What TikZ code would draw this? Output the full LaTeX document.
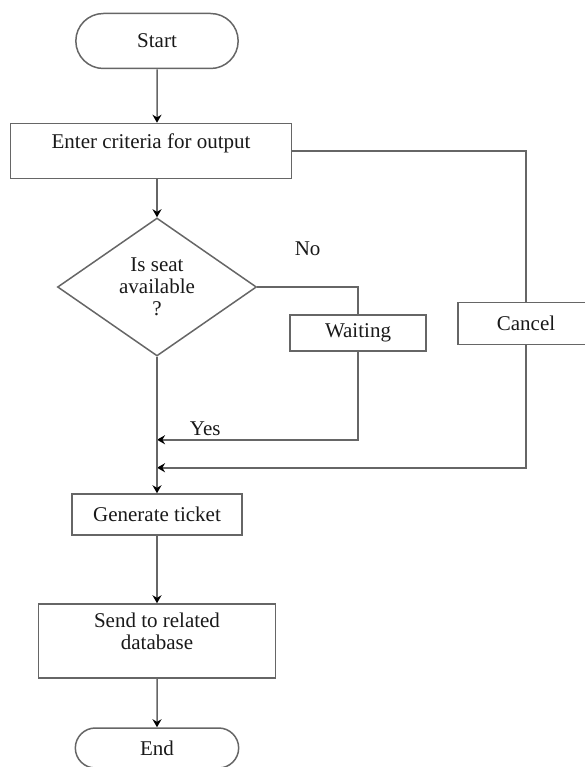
\documentclass[tikz,border=0pt]{standalone}
\usepackage{fontspec}
\setmainfont{Liberation Serif}
\usepackage{tikz}
\usetikzlibrary{shapes.geometric, shapes.misc, arrows.meta, positioning}
\tikzset{
    terminal/.style={rounded rectangle, minimum width=169pt, minimum height=55pt, text centered, draw=black!60, line width=1.5pt, text=black!90},
    process/.style={rectangle, minimum width=170pt, minimum height=41pt, text centered, align=center, draw=black!60, line width=1.5pt, text=black!90},
    decision/.style={diamond, aspect=1.44, inner sep=0pt, minimum width=199pt, minimum height=138pt, text centered, align=center, draw=black!60, line width=1.5pt, text=black!90},
    arrow/.style={line width=1.5pt, draw=black!60, -{Stealth[length=8pt, width=9pt, black]}},
    link/.style={line width=1.5pt, draw=black!60}
}

\begin{document}
\begin{tikzpicture}[x=1pt, y=1pt, node distance=110pt, font=\fontsize{21}{22}\selectfont]
    \useasboundingbox (-157,41) rectangle (427,-726);

    \node (start) [terminal] {Start};
    \node (enter) [process, below of=start, xshift=-6pt, minimum width=281pt, minimum height=55pt] {Enter criteria for output\\[-3pt]\mbox{}};
    \node (seat) [decision, below of=enter, xshift=6pt, yshift=-26pt] {Is seat\\available\\?};
    \node (wait) [process, right of=seat, xshift=91pt, yshift=-46pt, minimum width=136pt, minimum height=36pt] {Waiting};
    \node (cancel) [process, right of=enter, xshift=265pt, yshift=-172.5pt, minimum width=136pt, minimum height=42pt] {Cancel};
    \node (ticket) [process, below of=seat, yshift=-117.5pt] {Generate ticket};
    \node (send) [process, below of=ticket, yshift=-16.5pt, minimum width=237pt, minimum height=74pt] {Send to related\\database\\[-3pt]\mbox{}};
    \node (stop) [terminal, below of=send, yshift=3pt, minimum width=170pt, minimum height=40pt] {End};

    \coordinate (yesin) at ([yshift=-83pt]seat.south);
    \coordinate (cancelin) at ([yshift=-111pt]seat.south);

    \draw [arrow] (start) -- (start |- enter.north);
    \draw [arrow] (enter.south -| seat.north) -- (seat);
    \draw [link] (enter.east) -| (cancel);
    \draw [link] (seat.east) -| node[pos=0.25, yshift=38pt, text=black!90] {No} (wait);
    \draw [arrow] (wait) |- node[pos=0.88, yshift=11pt, text=black!90] {Yes} (yesin);
    \draw [arrow] (cancel) |- (cancelin);
    \draw [arrow] (seat) -- (ticket);
    \draw [arrow] (ticket) -- (send);
    \draw [arrow] (send) -- (stop);
\end{tikzpicture}
\end{document}
